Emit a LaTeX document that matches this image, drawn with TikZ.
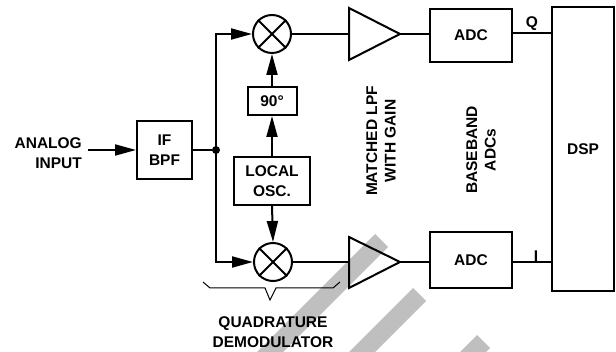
\documentclass[tikz,border=0pt]{standalone}
\usepackage{fontspec}
\setmainfont{Liberation Sans}
\usetikzlibrary{arrows.meta}
\newcommand\lblfont{\fontsize{15.5}{20}\selectfont\bfseries}
\newcommand\rotfont{\fontsize{15.5}{18.5}\selectfont\bfseries}
\begin{document}
\begin{tikzpicture}[x=1pt,y=-1pt,
  conn/.style={line width=2pt},
  arr/.style={line width=2pt,-{Triangle[length=21pt,width=11pt]}},
  box/.style={draw,line width=2pt,inner sep=0pt,align=center,font=\lblfont},
  mix/.style={circle,draw,line width=2pt,minimum size=38pt,inner sep=0pt},
  lbl/.style={inner sep=0pt,align=center,font=\lblfont},
  rlbl/.style={inner sep=0pt,align=center,font=\rotfont,rotate=90},
  wm/.style={fill=black!25,draw=none}]
\useasboundingbox (0,0) rectangle (616,352);
% watermark stripes
\begin{scope}
\clip (0,0) rectangle (616,352);
\fill[wm] (375,234) -- (388,247) -- (248,387) -- (235,374) -- cycle;
\fill[wm] (413,288) -- (426,301) -- (286,441) -- (273,428) -- cycle;
\fill[wm] (477,335) -- (490,348) -- (350,488) -- (337,475) -- cycle;
\end{scope}
% blocks
\node[lbl,anchor=east,align=right] (ain) at (82,153) {ANALOG\\INPUT};
\coordinate (ainend) at (88,150);
\node[box,minimum width=55pt,minimum height=58pt] (bpf) at (164.5,150) {IF\\BPF};
\node[circle,fill,minimum size=8pt,inner sep=0pt] (split) at (216,150) {};
\node[mix] (m1) at (272,34) {};
\node[mix] (m2) at (273,262) {};
\draw[conn] (m1.north west) -- (m1.south east) (m1.north east) -- (m1.south west);
\draw[conn] (m2.north west) -- (m2.south east) (m2.north east) -- (m2.south west);
\node[box,minimum width=49pt,minimum height=28pt] (ph) at (272,101) {90°};
\node[box,minimum width=76pt,minimum height=48pt] (lo) at (272,181) {LOCAL\\OSC.};
% amplifiers
\coordinate (t1in) at (349,34);
\coordinate (t1out) at (400,34);
\coordinate (t2in) at (349,262);
\coordinate (t2out) at (400,262);
\draw[conn,line join=miter] (349,8) -- (t1out) -- (349,60) -- cycle;
\draw[conn,line join=miter] (349,237) -- (t2out) -- (349,288) -- cycle;
\node[box,minimum width=82pt,minimum height=53pt,font=\lblfont] (adc1) at (471,35.5) {ADC};
\node[box,minimum width=82pt,minimum height=56pt,font=\lblfont] (adc2) at (471,260) {ADC};
\node[box,minimum width=62pt,minimum height=284pt] (dsp) at (583,149) {DSP};
% connectors
\draw[arr] (ainend) -- (bpf.west);
\draw[conn] (bpf.east |- split) -- (split);
\draw[arr] (split.center) |- (m1.west);
\draw[arr] (split.center) |- (m2.west);
\draw[arr] (lo.north) -- (ph.south);
\draw[arr] (ph.north) -- (m1.south);
\draw[arr] (lo.south) -- (m2.north);
\draw[conn] (m1.east) -- (t1in);
\draw[conn] (m2.east) -- (t2in);
\draw[conn] (t1out) -- (t1out -| adc1.west);
\draw[conn] (t2out) -- (t2out -| adc2.west);
\draw[conn] (adc1.east |- 0,33) -- (dsp.west |- 0,33);
\draw[conn] (adc2.east |- t2out) -- (dsp.west |- t2out);
% labels
\node[lbl,anchor=base] (qlbl) at (532,28) {Q};
\node[lbl,anchor=base] (ilbl) at (536,262) {I};
\node[rlbl] (lpf) at (381,141) {MATCHED LPF\\WITH GAIN};
\node[rlbl] (bb) at (481,150) {BASEBAND\\ADCs};
\draw[line width=1pt] (203,282) -- (210,288) -- (265,288) -- (270,300) -- (276,288) -- (333,288) -- (340,282);
\node[lbl] (qd) at (273,332) {QUADRATURE\\DEMODULATOR};
\end{tikzpicture}
\end{document}
